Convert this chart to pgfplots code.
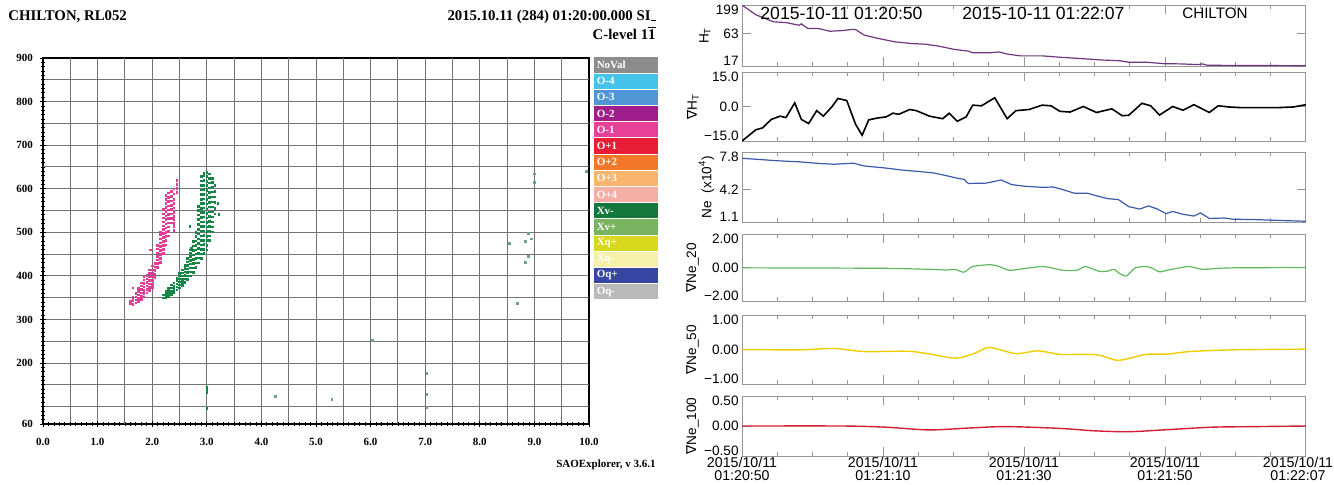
\documentclass[border=0pt]{standalone}
\usepackage{pgfplots}
\pgfplotsset{compat=1.18}
\usepackage{fontspec}
\setmainfont{Liberation Serif}
\newfontfamily\sans{Liberation Sans}
\newfontfamily\dv{DejaVu Sans}
\definecolor{lgA}{RGB}{140,140,140}
\definecolor{lgB}{RGB}{70,195,235}
\definecolor{lgC}{RGB}{80,150,215}
\definecolor{lgD}{RGB}{160,30,140}
\definecolor{lgE}{RGB}{230,65,150}
\definecolor{lgF}{RGB}{232,30,55}
\definecolor{lgG}{RGB}{240,120,40}
\definecolor{lgH}{RGB}{250,180,110}
\definecolor{lgI}{RGB}{245,175,165}
\definecolor{lgJ}{RGB}{20,120,60}
\definecolor{lgK}{RGB}{120,180,95}
\definecolor{lgL}{RGB}{215,215,30}
\definecolor{lgM}{RGB}{245,240,170}
\definecolor{lgN}{RGB}{55,70,160}
\definecolor{lgO}{RGB}{185,185,185}
\definecolor{pinkO}{RGB}{225,60,150}
\definecolor{greenX}{RGB}{20,135,70}
\definecolor{stray}{RGB}{110,160,150}
\definecolor{cHT}{RGB}{110,55,125}
\definecolor{cNe}{RGB}{60,90,170}
\definecolor{cG20}{RGB}{95,185,95}
\definecolor{cG50}{RGB}{240,205,0}
\definecolor{cG100}{RGB}{210,30,50}
\definecolor{frm}{RGB}{150,150,150}
\newcommand\up[1]{\raisebox{2.6pt}[\height][\depth]{#1}}
\newcommand\dn[1]{\raisebox{-2.2pt}[\height][\depth]{#1}}
\pgfplotsset{rp/.style={
  anchor=north west, width=282pt, scale only axis,
  xmin=0, xmax=77,
  xtick={0,19.25,38.5,57.75,77}, xticklabels={},
  minor x tick num=3,
  axis line style={frm, line width=0.5pt},
  tick style={frm, line width=0.5pt},
  tick align=inside, major tick length=4.5pt, minor tick length=1.8pt,
  yminorticks=false,
  ticklabel style={font=\sans\fontsize{6.8}{7.5}\selectfont},
  yticklabel style={inner sep=1.5pt},
  ylabel style={font=\sans\fontsize{6.8}{7.5}\selectfont, inner sep=1pt},
}}
\begin{document}
\begin{tikzpicture}
\path[use as bounding box] (0,0) rectangle (667pt,-242pt);
% headers
\node[anchor=west, inner sep=0pt, font=\bfseries\fontsize{7.4}{8}\selectfont] at (4pt,-8.5pt) {CHILTON, RL052};
\node[anchor=east, inner sep=0pt, font=\bfseries\fontsize{7.4}{8}\selectfont] at (328pt,-8.5pt) {2015.10.11 (284) 01:20:00.000 SI\rule{2.5pt}{0.4pt}};
\node[anchor=east, inner sep=0pt, font=\bfseries\fontsize{7.4}{8}\selectfont] at (328pt,-16.5pt) {C-level 1$\overline{\hbox{1}}$};
\node[anchor=east, inner sep=0pt, font=\bfseries\fontsize{5.5}{6}\selectfont] at (328pt,-232.5pt) {SAOExplorer, v 3.6.1};
% legend swatches
\foreach \col/\lab [count=\i from 0] in {lgA/NoVal,lgB/O-4,lgC/O-3,lgD/O-2,lgE/O-1,lgF/O+1,lgG/O+2,lgH/O+3,lgI/O+4,lgJ/Xv-,lgK/Xv+,lgL/Xq+,lgM/Xq-,lgN/Oq+,lgO/Oq-}{
  \fill[\col] (297pt,{-28.65pt-\i*8.1pt}) rectangle (328.8pt,{-28.65pt-\i*8.1pt-7.6pt});
  \node[anchor=west, inner sep=0pt, text=white, font=\bfseries\fontsize{5.5}{6}\selectfont] at (298.2pt,{-28.65pt-\i*8.1pt-3.8pt}) {\lab};
}
% ionogram
\begin{axis}[
  at={(21.5pt,-29pt)}, anchor=north west,
  width=273pt, height=183pt, scale only axis,
  xmin=0, xmax=10, ymin=60, ymax=900,
  xtick={0,1,2,3,4,5,6,7,8,9,10},
  xticklabels={0.0,1.0,2.0,3.0,4.0,5.0,6.0,7.0,8.0,9.0,10.0},
  ytick={60,200,300,400,500,600,700,800,900},
  yticklabels={60,200,300,400,500,600,700,800,900},
  minor x tick num=9,
  minor ytick={70,80,90,100,110,120,130,140,150,160,170,180,190,210,220,230,240,250,260,270,280,290,310,320,330,340,350,360,370,380,390,410,420,430,440,450,460,470,480,490,510,520,530,540,550,560,570,580,590,610,620,630,640,650,660,670,680,690,710,720,730,740,750,760,770,780,790,810,820,830,840,850,860,870,880,890},
  extra x ticks={0.5,1.5,2.5,3.5,4.5,5.5,6.5,7.5,8.5,9.5}, extra x tick labels={},
  extra y ticks={100,150,250,350,450,550,650,750,850}, extra y tick labels={},
  extra tick style={grid=major, major tick length=2pt},
  grid=major, grid style={black!55, line width=0.45pt},
  axis line style={black, line width=0.7pt},
  tick pos=left, tick align=center, major tick length=3pt, minor tick length=1.6pt,
  tick style={black, line width=0.4pt},
  ticklabel style={font=\bfseries\fontsize{5.5}{6}\selectfont},
  xticklabel style={yshift=-2pt},
]
\addplot[only marks, mark=square*, mark size=0.4pt, color=pinkO] table[row sep=\\] {x y\\
1.60 336\\1.60 342\\1.65 335\\1.65 343\\1.65 350\\1.65 372\\1.70 338\\1.70 345\\1.70 352\\1.70 360\\1.75 341\\1.75 348\\1.75 356\\1.75 364\\1.75 371\\1.80 346\\1.80 353\\1.80 361\\1.80 369\\1.80 377\\1.80 384\\1.85 352\\1.85 360\\1.85 367\\1.85 375\\1.85 383\\1.85 391\\1.85 398\\1.90 361\\1.90 369\\1.90 377\\1.90 385\\1.90 393\\1.90 401\\1.95 366\\1.95 374\\1.95 382\\1.95 390\\1.95 398\\1.95 406\\1.95 414\\1.97 460\\2.00 373\\2.00 381\\2.00 390\\2.00 398\\2.00 406\\2.00 414\\2.00 423\\2.05 396\\2.05 404\\2.05 412\\2.05 421\\2.05 429\\2.10 420\\2.10 428\\2.10 437\\2.10 445\\2.10 453\\2.10 462\\2.10 470\\2.15 431\\2.15 440\\2.15 449\\2.15 458\\2.15 467\\2.15 476\\2.15 485\\2.15 494\\2.15 500\\2.20 452\\2.20 461\\2.20 470\\2.20 479\\2.20 488\\2.20 497\\2.20 506\\2.20 515\\2.20 524\\2.20 533\\2.20 542\\2.20 553\\2.25 471\\2.25 481\\2.25 490\\2.25 500\\2.25 510\\2.25 519\\2.25 529\\2.25 538\\2.25 548\\2.25 557\\2.25 566\\2.25 576\\2.25 584\\2.30 492\\2.30 502\\2.30 512\\2.30 522\\2.30 532\\2.30 541\\2.30 551\\2.30 561\\2.30 571\\2.30 580\\2.30 590\\2.35 522\\2.35 532\\2.35 542\\2.35 552\\2.35 562\\2.35 572\\2.35 582\\2.35 594\\2.40 505\\2.40 513\\2.40 521\\2.40 529\\2.40 537\\2.40 545\\2.40 556\\2.40 566\\2.40 576\\2.40 588\\2.40 600\\2.45 592\\2.45 601\\2.45 610\\2.45 619\\
};
\addplot[only marks, mark=square*, mark size=0.4pt, color=greenX] table[row sep=\\] {x y\\
2.20 349\\2.20 356\\2.25 350\\2.25 357\\2.25 364\\2.30 353\\2.30 360\\2.30 367\\2.30 372\\2.35 358\\2.35 365\\2.35 372\\2.35 379\\2.40 362\\2.40 369\\2.40 376\\2.40 384\\2.45 368\\2.45 375\\2.45 382\\2.45 389\\2.45 395\\2.50 372\\2.50 379\\2.50 386\\2.50 393\\2.50 400\\2.50 405\\2.55 378\\2.55 385\\2.55 392\\2.55 400\\2.55 407\\2.55 414\\2.60 385\\2.60 393\\2.60 401\\2.60 409\\2.60 417\\2.60 424\\2.65 392\\2.65 400\\2.65 408\\2.65 416\\2.65 424\\2.65 432\\2.65 440\\2.69 513\\2.70 400\\2.70 409\\2.70 418\\2.70 427\\2.70 436\\2.70 445\\2.70 453\\2.70 460\\2.72 463\\2.75 408\\2.75 418\\2.75 428\\2.75 438\\2.75 448\\2.75 458\\2.75 469\\2.75 479\\2.80 420\\2.80 430\\2.80 440\\2.80 450\\2.80 460\\2.80 470\\2.80 480\\2.80 490\\2.80 500\\2.85 430\\2.85 441\\2.85 452\\2.85 463\\2.85 474\\2.85 485\\2.85 496\\2.85 507\\2.85 518\\2.85 529\\2.85 540\\2.85 550\\2.85 560\\2.90 440\\2.90 450\\2.90 461\\2.90 471\\2.90 482\\2.90 492\\2.90 503\\2.90 513\\2.90 524\\2.90 534\\2.90 545\\2.90 555\\2.90 566\\2.90 576\\2.90 587\\2.90 597\\2.90 608\\2.90 618\\2.90 628\\2.95 451\\2.95 461\\2.95 472\\2.95 482\\2.95 493\\2.95 503\\2.95 514\\2.95 524\\2.95 535\\2.95 545\\2.95 556\\2.95 566\\2.95 577\\2.95 587\\2.95 598\\2.95 608\\2.95 619\\2.95 629\\2.95 635\\3.00 460\\3.00 470\\3.00 481\\3.00 491\\3.00 502\\3.00 512\\3.00 523\\3.00 533\\3.00 544\\3.00 554\\3.00 565\\3.00 575\\3.00 586\\3.00 596\\3.00 607\\3.00 617\\3.00 628\\3.00 638\\3.05 481\\3.05 492\\3.05 503\\3.05 514\\3.05 525\\3.05 536\\3.05 547\\3.05 558\\3.05 569\\3.05 580\\3.05 591\\3.05 602\\3.05 613\\3.05 624\\3.05 634\\3.10 501\\3.10 512\\3.10 524\\3.10 535\\3.10 547\\3.10 558\\3.10 570\\3.10 581\\3.10 593\\3.10 604\\3.10 615\\3.10 624\\3.15 542\\3.15 555\\3.15 568\\3.15 581\\3.15 594\\3.15 607\\3.20 566\\3.22 541\\3.00 145\\3.00 139\\3.00 133\\3.00 96\\
};
\addplot[only marks, mark=square*, mark size=0.45pt, color=stray] table[row sep=\\] {x y\\
4.25 123\\5.29 117\\6.04 252\\7.03 176\\7.03 128\\7.03 98\\8.54 475\\8.69 336\\8.83 480\\8.89 498\\8.95 485\\8.89 445\\8.83 430\\9.00 634\\9.00 615\\9.95 639\\
};
\end{axis}
% right panels
\begin{axis}[rp, at={(371pt,-2.5pt)}, height=30.5pt,
  ymode=log, ymin=17, ymax=199, ytick={17,63,199}, yticklabels={\up{17},63,\dn{199}},
  ylabel={H\textsubscript{T}}]
\addplot[cHT, line width=0.6pt] table[row sep=\\] {x y\\
0 199\\1.9 134\\4.3 101\\6.0 98\\7.2 91\\7.8 88\\8.1 93\\9.0 77\\10.5 77\\12.0 69\\13.7 71\\14.9 74\\15.5 74\\16.7 59\\18.5 52\\20.9 45\\23.2 42\\25.0 41\\26.8 38\\29.1 33\\30.9 31\\31.5 29\\33.9 29\\35.1 30\\36.2 27.5\\38.0 25.6\\41.0 25.6\\42.2 24.9\\43.4 24.2\\45.7 23.2\\47.5 22.4\\49.3 21.6\\51.6 21.0\\52.8 19.8\\55.2 19.8\\57.6 18.7\\59.9 18.5\\62.3 18.0\\62.9 18.5\\63.5 17.5\\77 17.2\\
};
\node[anchor=west, inner sep=0pt, font=\sans\fontsize{8.8}{9}\selectfont] at (axis description cs:0.032,0.86) {2015-10-11 01:20:50};
\node[anchor=west, inner sep=0pt, font=\sans\fontsize{8.8}{9}\selectfont] at (axis description cs:0.39,0.86) {2015-10-11 01:22:07};
\node[anchor=west, inner sep=0pt, font=\sans\fontsize{7.6}{8}\selectfont] at (axis description cs:0.78,0.86) {CHILTON};
\end{axis}
\begin{axis}[rp, at={(371pt,-36pt)}, height=34.5pt,
  ymin=-15, ymax=15, ytick={-15,0,15}, yticklabels={\up{−15.0},0.0,\dn{15.0}},
  ylabel={{\dv ∇}H\textsubscript{T}}]
\addplot[black, line width=0.8pt] table[row sep=\\] {x y\\
0 -15\\1.9 -10.1\\2.8 -9.3\\4.0 -5.6\\5.2 -4.2\\6.0 -4.8\\7.2 1.6\\8.1 -5.6\\9.1 -7.4\\10.2 -1.8\\11.1 -4.2\\12.3 0\\13.1 3.5\\14.3 2.6\\15.5 -7.7\\16.4 -12.5\\17.3 -5.8\\18.5 -5.0\\19.7 -4.5\\20.6 -2.9\\21.4 -3.4\\22.9 -1.3\\23.8 -1.8\\25.6 -4.2\\27.4 -5.3\\28.3 -2.9\\29.4 -6.4\\30.6 -4.5\\31.5 0.6\\32.7 0.3\\34.5 3.8\\36.2 -5.3\\37.4 -1.8\\39.2 -1.3\\41.0 0.6\\42.2 0.3\\43.4 -2.1\\44.8 -2.4\\46.6 0\\48.4 -2.6\\50.5 -1.0\\51.9 -4.0\\52.8 -3.8\\54.6 1.4\\55.8 0.3\\57.0 -3.7\\58.8 0\\60.2 -1.6\\61.7 0.8\\63.8 -2.6\\65.0 0.3\\66.5 -0.2\\68.2 -0.5\\73.0 -0.5\\75.3 -0.2\\77 0.8\\
};
\end{axis}
\begin{axis}[rp, at={(371pt,-76pt)}, height=35pt,
  ymin=1.1, ymax=7.8, ytick={1.1,4.2,7.8}, yticklabels={\up{1.1},4.2,\dn{7.8}},
  ylabel={Ne\ \ (x10\textsuperscript{4})}]
\addplot[cNe, line width=0.6pt] table[row sep=\\] {x y\\
0 7.2\\4.9 6.96\\7.8 6.86\\10.8 6.69\\12.6 6.63\\15.2 6.73\\16.7 6.46\\19.7 6.26\\22.0 6.06\\24.4 5.92\\26.2 5.79\\28.0 5.52\\29.4 5.29\\30.3 5.19\\30.9 4.79\\33.3 4.82\\35.4 5.12\\36.8 4.68\\38.6 4.52\\41.0 4.42\\42.5 4.45\\43.9 4.18\\45.4 3.85\\47.2 3.85\\48.4 3.61\\49.9 3.34\\51.4 3.24\\52.8 2.57\\54.3 2.34\\55.5 2.64\\56.7 2.34\\57.9 1.90\\58.8 2.11\\60.2 1.84\\61.7 1.67\\62.6 1.97\\63.8 1.44\\65.9 1.48\\67.0 1.37\\70.0 1.33\\74.2 1.23\\77 1.17\\
};
\end{axis}
\begin{axis}[rp, at={(371pt,-117pt)}, height=33.5pt,
  ymin=-2, ymax=2, ytick={-2,0,2}, yticklabels={\up{−2.00},0.00,\dn{2.00}},
  ylabel={{\dv ∇}Ne\_20}]
\addplot[cG20, line width=0.6pt, smooth, tension=0.4] table[row sep=\\] {x y\\
0 -0.02\\10 -0.03\\20 -0.05\\25.6 -0.11\\28.0 -0.15\\29.1 -0.11\\30.3 -0.28\\31.5 0.06\\33.9 0.17\\35.1 0.06\\36.5 -0.17\\38.6 -0.06\\41.0 0.06\\42.2 -0.02\\43.9 -0.17\\45.7 -0.17\\46.9 0.06\\48.7 -0.22\\49.9 -0.22\\50.8 -0.11\\51.6 -0.37\\52.5 -0.5\\53.7 -0.02\\55.2 0.06\\56.1 -0.06\\57.0 -0.26\\58.2 -0.15\\60.0 0\\61.1 0.06\\62.9 -0.11\\64.7 -0.06\\67.0 -0.02\\77 0\\
};
\end{axis}
\begin{axis}[rp, at={(371pt,-157.5pt)}, height=34.5pt,
  ymin=-1, ymax=1, ytick={-1,0,1}, yticklabels={\up{−1.00},0.00,\dn{1.00}},
  ylabel={{\dv ∇}Ne\_50}]
\addplot[cG50, line width=0.7pt, smooth, tension=0.5] table[row sep=\\] {x y\\
0 0\\7.8 -0.01\\12.6 0.03\\16.7 -0.06\\22.6 -0.05\\25.6 -0.13\\29.1 -0.25\\31.5 -0.13\\33.6 0.06\\35.1 0\\37.5 -0.12\\40.4 -0.04\\43.4 -0.14\\46.4 -0.14\\48.7 -0.16\\51.1 -0.31\\52.8 -0.26\\55.2 -0.14\\58.2 -0.13\\61.1 -0.06\\67.0 -0.01\\77 0.01\\
};
\end{axis}
\begin{axis}[rp, at={(371pt,-198pt)}, height=30pt,
  ymin=-0.5, ymax=0.5, ytick={-0.5,0,0.5}, yticklabels={\up{−0.50},0.00,\dn{0.50}},
  ylabel={{\dv ∇}Ne\_100},
  xticklabels={{2015/10/11\\01:20:50},{2015/10/11\\01:21:10},{2015/10/11\\01:21:30},{2015/10/11\\01:21:50},{\hspace*{-8pt}2015/10/11\\\hspace*{-8pt}01:22:07}},
  xticklabel style={align=center, font=\sans\fontsize{7.1}{6.3}\selectfont, inner sep=0.5pt}]
\addplot[cG100, line width=0.7pt, smooth, tension=0.5] table[row sep=\\] {x y\\
0 0\\13.7 0\\19.7 -0.02\\25.6 -0.065\\31.5 -0.03\\36.2 -0.01\\43.4 -0.04\\48.1 -0.08\\52.8 -0.095\\58.2 -0.06\\64.1 -0.02\\70.0 -0.01\\77 0\\
};
\end{axis}
\end{tikzpicture}
\end{document}
